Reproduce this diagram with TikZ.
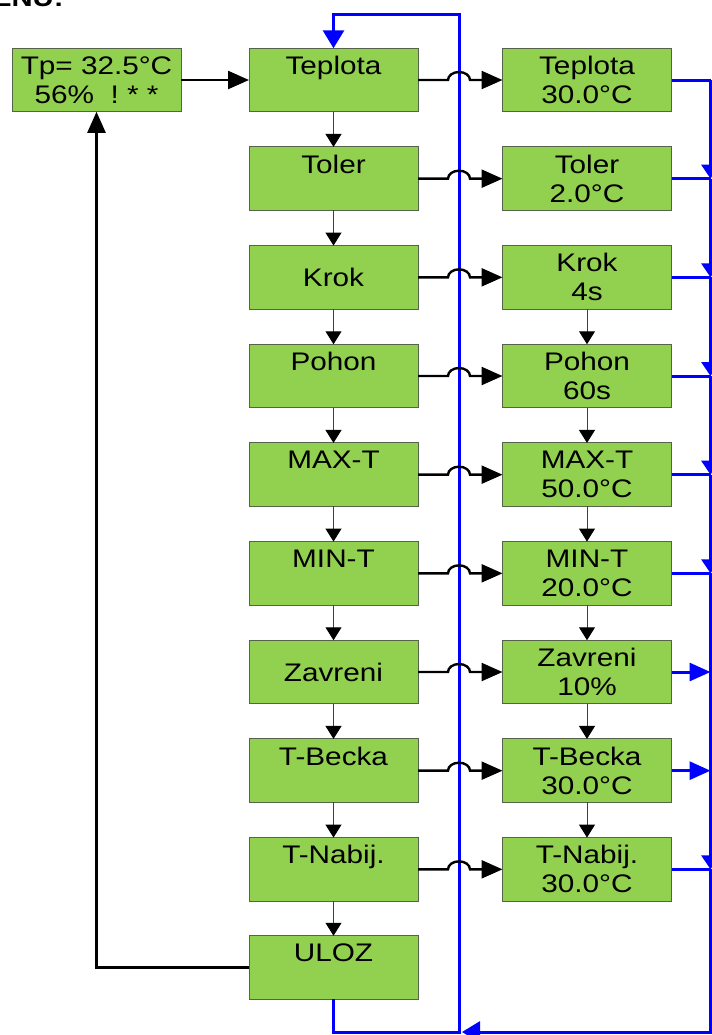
\documentclass[tikz,border=0pt]{standalone}
\usepackage{fontspec}
\setmainfont{Liberation Sans}[FakeStretch=1.17]
\usetikzlibrary{arrows.meta}
\definecolor{boxgreen}{HTML}{92D050}
\definecolor{boxedge}{HTML}{56624A}
\definecolor{bluel}{HTML}{0000FF}
\definecolor{thinc}{HTML}{404040}
\begin{document}
\begin{tikzpicture}[x=0.5pt,y=-0.5pt,
  box/.style={draw=boxedge, line width=0.5pt, fill=boxgreen, minimum width=84.5pt,
    minimum height=31.75pt, inner sep=0pt, outer sep=0pt, align=center,
    font=\fontsize{12.7pt}{14.5pt}\selectfont},
  mainarrow/.style={line width=1.2pt, -{Triangle[length=10.5pt,width=9pt]}},
  stepline/.style={draw=thinc, line width=0.5pt, -{Triangle[length=6.5pt,width=8pt,color=black]}},
  busline/.style={draw=bluel, line width=1.5pt},
  busarrow/.style={busline, -{Triangle[length=9pt,width=10.5pt]}},
  busright/.style={busline, -{Triangle[length=10.5pt,width=9pt]}},
  busdown/.style={busline, -{Triangle[length=7pt,width=9pt]}},
]
\path[use as bounding box] (0,0) rectangle (712,1035);
\clip (0,0) rectangle (712,1035);

\node[anchor=base east, inner sep=0pt, font=\fontsize{12.5pt}{14.5pt}\selectfont\bfseries] (menu) at (64,6) {MENU:};

% display box
\node[box] (tp) at (96.5,80) {Tp= 32.5°C\\56\%\ \ !\ *\ *};

% left column
\node[box] (lT)  at (333.5,80)     {Teplota\\\phantom{0}};
\node[box] (lTo) at (333.5,178.67) {Toler\\\phantom{0}};
\node[box] (lK)  at (333.5,277.33) {Krok};
\node[box] (lP)  at (333.5,376)    {Pohon\\\phantom{0}};
\node[box] (lMX) at (333.5,474.67) {MAX-T\\\phantom{0}};
\node[box] (lMN) at (333.5,573.33) {MIN-T\\\phantom{0}};
\node[box] (lZ)  at (333.5,672)    {Zavreni};
\node[box] (lB)  at (333.5,770.67) {T-Becka\\\phantom{0}};
\node[box] (lN)  at (333.5,869.33) {T-Nabij.\\\phantom{0}};
\node[box] (lU)  at (333.5,967.5)  {ULOZ\\\phantom{0}};

% right column
\node[box] (rT)  at (587,80)     {Teplota\\30.0°C};
\node[box] (rTo) at (587,178.67) {Toler\\2.0°C};
\node[box] (rK)  at (587,277.33) {Krok\\4s};
\node[box] (rP)  at (587,376)    {Pohon\\60s};
\node[box] (rMX) at (587,474.67) {MAX-T\\50.0°C};
\node[box] (rMN) at (587,573.33) {MIN-T\\20.0°C};
\node[box] (rZ)  at (587,672)    {Zavreni\\10\%};
\node[box] (rB)  at (587,770.67) {T-Becka\\30.0°C};
\node[box] (rN)  at (587,869.33) {T-Nabij.\\30.0°C};

% coordinates for the blue loops
\coordinate (bot) at (459,1032);
\coordinate (top) at (459,14);
\coordinate (bus) at (710.5,1032);
\coordinate (busend) at (462,1032);

% blue return loop from ULOZ to Teplota
\draw[busarrow] (lU.south) |- (bot) -- (top) -| (lT.north);

% black main arrows
\draw[mainarrow] (tp.east) -- (lT.west);
\draw[mainarrow] (lU.west) -| (tp.south);
\foreach \n in {T,To,K,P,MX,MN,Z,B,N}{
  \draw[mainarrow] (l\n.east) -- ++(15pt,0)
    arc[start angle=180, end angle=0, x radius=5.5pt, y radius=4pt] -- (r\n.west);
}

% thin step arrows, left column
\draw[stepline] (lT.south) -- (lTo.north);
\draw[stepline] (lTo.south) -- (lK.north);
\draw[stepline] (lK.south) -- (lP.north);
\draw[stepline] (lP.south) -- (lMX.north);
\draw[stepline] (lMX.south) -- (lMN.north);
\draw[stepline] (lMN.south) -- (lZ.north);
\draw[stepline] (lZ.south) -- (lB.north);
\draw[stepline] (lB.south) -- (lN.north);
\draw[stepline] (lN.south) -- (lU.north);

% thin step arrows, right column
\draw[stepline] (rK.south) -- (rP.north);
\draw[stepline] (rP.south) -- (rMX.north);
\draw[stepline] (rMX.south) -- (rMN.north);
\draw[stepline] (rMN.south) -- (rZ.north);
\draw[stepline] (rZ.south) -- (rB.north);
\draw[stepline] (rB.south) -- (rN.north);

% right blue bus
\foreach \n in {T,To,K,P,MX,MN,N}{
  \draw[busline] (r\n.east) -- (r\n.east -| bus);
}
\draw[busright] (rZ.east) -- (rZ.east -| bus);
\draw[busright] (rB.east) -- (rB.east -| bus);
\draw[busdown] (rT.east -| bus) -- (rTo.east -| bus);
\draw[busdown] (rTo.east -| bus) -- (rK.east -| bus);
\draw[busdown] (rK.east -| bus) -- (rP.east -| bus);
\draw[busdown] (rP.east -| bus) -- (rMX.east -| bus);
\draw[busdown] (rMX.east -| bus) -- (rMN.east -| bus);
\draw[busdown] (rMN.east -| bus) -- (rN.east -| bus);
\draw[busarrow] (rN.east -| bus) -- (bus) -- (busend);
\end{tikzpicture}
\end{document}
